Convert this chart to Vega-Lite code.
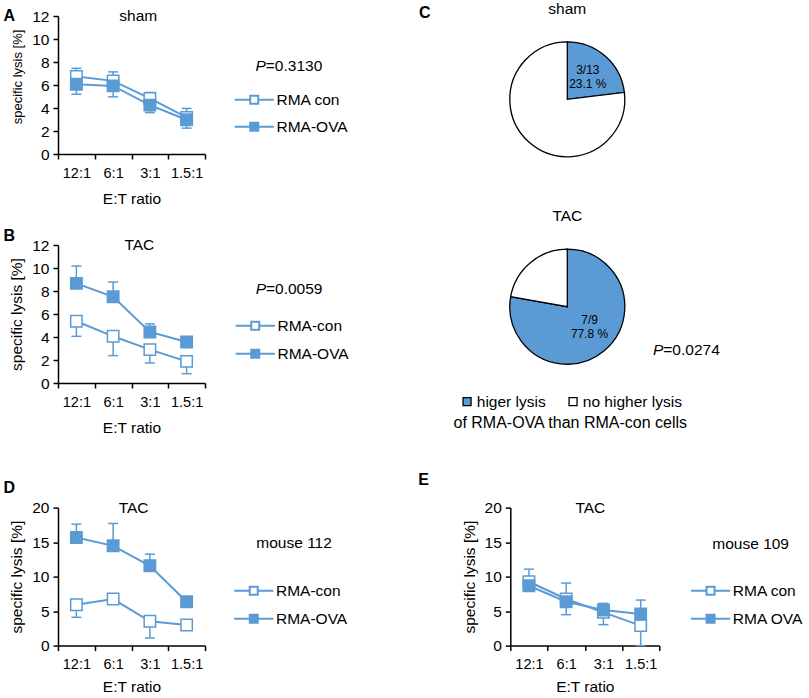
{
"$schema":"https://vega.github.io/schema/vega-lite/v6.json",
"padding":{"left":3,"top":2,"right":5,"bottom":5},
"background":"#ffffff",
"config":{"font":"Liberation Sans","view":{"stroke":null},
 "axis":{"grid":false,"domainColor":"#000","domainWidth":1.5,"tickColor":"#000","tickWidth":1.5,"tickSize":5,"labelColor":"#000","titleColor":"#000","titleFontWeight":"normal","labelFont":"Liberation Sans","titleFont":"Liberation Sans"},
 "axisX":{"labelAngle":0,"labelFontSize":14.5,"titleFontSize":15.5,"labelPadding":7,"titlePadding":8},
 "axisY":{"labelFontSize":15.5,"titleFontSize":15.5,"labelPadding":4,"titlePadding":7},
 "legend":{"labelFont":"Liberation Sans","titleFont":"Liberation Sans","labelColor":"#000","titleColor":"#000","padding":0,"titleLimit":500,"labelLimit":300},
 "text":{"font":"Liberation Sans","color":"#000"}},
"bounds":"flush","spacing":491.6,
"resolve":{"scale":{"x":"independent","y":"independent","fill":"independent","theta":"independent"},"legend":{"fill":"independent"}},
"vconcat":[
{"hconcat":[
 {"vconcat":[
  {"width":147,"height":138,
   "layer":[
    {"data":{"values":[
      {"ratio":"12:1","series":"RMA con","v":6.74,"e":7.45},
      {"ratio":"6:1","series":"RMA con","v":6.36,"e":7.14},
      {"ratio":"3:1","series":"RMA con","v":4.83,"e":5.35},
      {"ratio":"1.5:1","series":"RMA con","v":3.18,"e":3.96},
      {"ratio":"12:1","series":"RMA-OVA","v":6.07,"e":5.2},
      {"ratio":"6:1","series":"RMA-OVA","v":5.92,"e":4.97},
      {"ratio":"3:1","series":"RMA-OVA","v":4.25,"e":3.6},
      {"ratio":"1.5:1","series":"RMA-OVA","v":2.98,"e":2.25}]},
     "encoding":{"x":{"field":"ratio","type":"ordinal","sort":["12:1","6:1","3:1","1.5:1"],"scale":{"type":"band","paddingInner":0,"paddingOuter":0},"axis":{"title":"E:T ratio","tickBand":"extent","titlePadding":12}},
       "y":{"field":"v","type":"quantitative","title":"specific lysis [%]","scale":{"domain":[0,12],"nice":false},"axis":{"values":[0,2,4,6,8,10,12],"titleFontSize":13,"titleY":60.5}}},
     "layer":[
      {"transform":[{"filter":"datum.e != null"}],"mark":{"type":"rule","color":"#5B9BD5","strokeWidth":1.5},"encoding":{"y2":{"field":"e"}}},
      {"transform":[{"filter":"datum.e != null"}],"mark":{"type":"tick","color":"#5B9BD5","thickness":1.5,"size":10,"opacity":1},"encoding":{"y":{"field":"e","type":"quantitative","title":"specific lysis [%]"}}},
      {"mark":{"type":"line","color":"#5B9BD5","strokeWidth":2},"encoding":{"detail":{"field":"series"}}},
      {"mark":{"type":"point","shape":"square","size":130,"filled":true,"opacity":1,"stroke":"#5B9BD5","strokeWidth":1.5},
       "encoding":{"fill":{"field":"series","type":"nominal","scale":{"domain":["RMA con","RMA-OVA"],"range":["#ffffff","#5B9BD5"]},
         "legend":{"orient":"none","legendX":188.5,"legendY":76,"title":null,"direction":"vertical","symbolType":"M-4.9,0H-1M1,0H4.9M-1,-1H1V1H-1Z","symbolSize":64,"symbolStrokeColor":"#5B9BD5","symbolStrokeWidth":2,"symbolOpacity":1,"labelFontSize":15.5,"labelOffset":14.5,"rowPadding":9}}}}
     ]},
    {"data":{"values":[{"t":"A"}]},"mark":{"type":"text","fontSize":16,"fontWeight":"bold","dx":-122.2,"dy":-69,"baseline":"middle"},"encoding":{"text":{"field":"t"}}},
    {"data":{"values":[{"t":"sham"}]},"mark":{"type":"text","fontSize":15.5,"dx":6.8,"dy":-69,"baseline":"middle"},"encoding":{"text":{"field":"t"}}},
    {"data":{"values":[{"t":"P"}]},"mark":{"type":"text","fontSize":15.5,"fontStyle":"italic","align":"right","dx":134.3,"dy":-18.7,"baseline":"middle"},"encoding":{"text":{"field":"t"}}},
    {"data":{"values":[{"t":"=0.3130"}]},"mark":{"type":"text","fontSize":15.5,"align":"left","dx":134.3,"dy":-18.7,"baseline":"middle"},"encoding":{"text":{"field":"t"}}}
   ]},
  {"width":147,"height":138,
   "layer":[
    {"data":{"values":[
      {"ratio":"12:1","series":"RMA-con","v":5.37,"e":4.06},
      {"ratio":"6:1","series":"RMA-con","v":4.06,"e":2.38},
      {"ratio":"3:1","series":"RMA-con","v":2.9,"e":1.74},
      {"ratio":"1.5:1","series":"RMA-con","v":1.88,"e":0.81},
      {"ratio":"12:1","series":"RMA-OVA","v":8.66,"e":10.17},
      {"ratio":"6:1","series":"RMA-OVA","v":7.5,"e":8.78},
      {"ratio":"3:1","series":"RMA-OVA","v":4.44,"e":5.14},
      {"ratio":"1.5:1","series":"RMA-OVA","v":3.57,"e":null}]},
     "encoding":{"x":{"field":"ratio","type":"ordinal","sort":["12:1","6:1","3:1","1.5:1"],"scale":{"type":"band","paddingInner":0,"paddingOuter":0},"axis":{"title":"E:T ratio","tickBand":"extent","titlePadding":12}},
       "y":{"field":"v","type":"quantitative","title":"specific lysis [%]","scale":{"domain":[0,12],"nice":false},"axis":{"values":[0,2,4,6,8,10,12]}}},
     "layer":[
      {"transform":[{"filter":"datum.e != null"}],"mark":{"type":"rule","color":"#5B9BD5","strokeWidth":1.5},"encoding":{"y2":{"field":"e"}}},
      {"transform":[{"filter":"datum.e != null"}],"mark":{"type":"tick","color":"#5B9BD5","thickness":1.5,"size":10,"opacity":1},"encoding":{"y":{"field":"e","type":"quantitative","title":"specific lysis [%]"}}},
      {"mark":{"type":"line","color":"#5B9BD5","strokeWidth":2},"encoding":{"detail":{"field":"series"}}},
      {"mark":{"type":"point","shape":"square","size":130,"filled":true,"opacity":1,"stroke":"#5B9BD5","strokeWidth":1.5},
       "encoding":{"fill":{"field":"series","type":"nominal","scale":{"domain":["RMA-con","RMA-OVA"],"range":["#ffffff","#5B9BD5"]},
         "legend":{"orient":"none","legendX":189.5,"legendY":73,"title":null,"direction":"vertical","symbolType":"M-4.9,0H-1M1,0H4.9M-1,-1H1V1H-1Z","symbolSize":64,"symbolStrokeColor":"#5B9BD5","symbolStrokeWidth":2,"symbolOpacity":1,"labelFontSize":15.5,"labelOffset":14.5,"rowPadding":10}}}}
     ]},
    {"data":{"values":[{"t":"B"}]},"mark":{"type":"text","fontSize":16,"fontWeight":"bold","dx":-122.2,"dy":-77.7,"baseline":"middle"},"encoding":{"text":{"field":"t"}}},
    {"data":{"values":[{"t":"TAC"}]},"mark":{"type":"text","fontSize":15.5,"dx":7.8,"dy":-68.7,"baseline":"middle"},"encoding":{"text":{"field":"t"}}},
    {"data":{"values":[{"t":"P"}]},"mark":{"type":"text","fontSize":15.5,"fontStyle":"italic","align":"right","dx":134.5,"dy":-24.7,"baseline":"middle"},"encoding":{"text":{"field":"t"}}},
    {"data":{"values":[{"t":"=0.0059"}]},"mark":{"type":"text","fontSize":15.5,"align":"left","dx":134.5,"dy":-24.7,"baseline":"middle"},"encoding":{"text":{"field":"t"}}}
   ]}
 ],"spacing":91,"bounds":"flush","resolve":{"scale":{"x":"independent","y":"independent","fill":"independent"},"legend":{"fill":"independent"}}},
 {"vconcat":[
  {"width":115,"height":166.6,
   "layer":[
    {"data":{"values":[{"cat":"higer lysis","n":3,"label":"3/13\n23.1 %"},{"cat":"no higher lysis","n":10,"label":""}]},
     "encoding":{"theta":{"field":"n","type":"quantitative","stack":true},"order":{"field":"cat","type":"nominal","sort":"ascending"}},
     "layer":[
      {"mark":{"type":"arc","outerRadius":57.5,"stroke":"#000","strokeWidth":1.3},
       "encoding":{"fill":{"field":"cat","type":"nominal","scale":{"domain":["higer lysis","no higher lysis"],"range":["#5B9BD5","#ffffff"]},"legend":null}}},
      {"mark":{"type":"text","radius":31,"fontSize":12,"lineBreak":"\n","lineHeight":14,"baseline":"middle","dy":-6},"encoding":{"text":{"field":"label"},"detail":{"field":"cat"}}}
     ]},
    {"data":{"values":[{"t":"sham"}]},"mark":{"type":"text","fontSize":15.5,"dy":-90,"baseline":"middle"},"encoding":{"text":{"field":"t"}}},
    {"data":{"values":[{"t":"C"}]},"mark":{"type":"text","fontSize":16,"fontWeight":"bold","dx":-142.5,"dy":-86,"baseline":"middle"},"encoding":{"text":{"field":"t"}}}
   ]},
  {"width":115,"height":152.6,
   "layer":[
    {"data":{"values":[{"cat":"higer lysis","n":7,"label":"7/9\n77.8 %"},{"cat":"no higher lysis","n":2,"label":""}]},
     "encoding":{"theta":{"field":"n","type":"quantitative","stack":true},"order":{"field":"cat","type":"nominal","sort":"ascending"}},
     "layer":[
      {"mark":{"type":"arc","outerRadius":57.5,"stroke":"#000","strokeWidth":1.3},
       "encoding":{"fill":{"field":"cat","type":"nominal","scale":{"domain":["higer lysis","no higher lysis"],"range":["#5B9BD5","#ffffff"]},
         "legend":{"orient":"none","legendX":-56.5,"legendY":163,"direction":"horizontal","title":"of RMA-OVA than RMA-con cells","titleOrient":"bottom","titleAnchor":"middle","titleFontSize":16,"titleFontWeight":"normal","titlePadding":5,"labelFontSize":15.5,"symbolType":"square","symbolSize":64,"symbolStrokeColor":"#000","symbolStrokeWidth":1.3,"labelOffset":2,"columnPadding":19}}}},
      {"mark":{"type":"text","radius":30,"fontSize":12,"lineBreak":"\n","lineHeight":14,"baseline":"middle","dx":3,"dy":-10},"encoding":{"text":{"field":"label"},"detail":{"field":"cat"}}}
     ]},
    {"data":{"values":[{"t":"TAC"}]},"mark":{"type":"text","fontSize":15.5,"dy":-91,"baseline":"middle"},"encoding":{"text":{"field":"t"}}},
    {"data":{"values":[{"t":"P"}]},"mark":{"type":"text","fontSize":15.5,"fontStyle":"italic","align":"right","dx":96,"dy":43,"baseline":"middle"},"encoding":{"text":{"field":"t"}}},
    {"data":{"values":[{"t":"=0.0274"}]},"mark":{"type":"text","fontSize":15.5,"align":"left","dx":96,"dy":43,"baseline":"middle"},"encoding":{"text":{"field":"t"}}}
   ]}
 ],"spacing":47.4,"bounds":"flush","resolve":{"scale":{"fill":"independent","theta":"independent"},"legend":{"fill":"independent"}}}
],"spacing":451.8,"bounds":"flush","resolve":{"scale":{"x":"independent","y":"independent","fill":"independent","theta":"independent"},"legend":{"fill":"independent"}}},
{"hconcat":[
  {"width":147,"height":138,
   "layer":[
    {"data":{"values":[
      {"ratio":"12:1","series":"RMA-con","v":5.93,"e":4.1},
      {"ratio":"6:1","series":"RMA-con","v":6.75,"e":null},
      {"ratio":"3:1","series":"RMA-con","v":3.52,"e":1.1},
      {"ratio":"1.5:1","series":"RMA-con","v":2.99,"e":null},
      {"ratio":"12:1","series":"RMA-OVA","v":15.66,"e":17.6},
      {"ratio":"6:1","series":"RMA-OVA","v":14.46,"e":17.7},
      {"ratio":"3:1","series":"RMA-OVA","v":11.57,"e":13.25},
      {"ratio":"1.5:1","series":"RMA-OVA","v":6.36,"e":null}]},
     "encoding":{"x":{"field":"ratio","type":"ordinal","sort":["12:1","6:1","3:1","1.5:1"],"scale":{"type":"band","paddingInner":0,"paddingOuter":0},"axis":{"title":"E:T ratio","tickBand":"extent"}},
       "y":{"field":"v","type":"quantitative","title":"specific lysis [%]","scale":{"domain":[0,20],"nice":false},"axis":{"values":[0,5,10,15,20]}}},
     "layer":[
      {"transform":[{"filter":"datum.e != null"}],"mark":{"type":"rule","color":"#5B9BD5","strokeWidth":1.5},"encoding":{"y2":{"field":"e"}}},
      {"transform":[{"filter":"datum.e != null"}],"mark":{"type":"tick","color":"#5B9BD5","thickness":1.5,"size":10,"opacity":1},"encoding":{"y":{"field":"e","type":"quantitative","title":"specific lysis [%]"}}},
      {"mark":{"type":"line","color":"#5B9BD5","strokeWidth":2},"encoding":{"detail":{"field":"series"}}},
      {"mark":{"type":"point","shape":"square","size":130,"filled":true,"opacity":1,"stroke":"#5B9BD5","strokeWidth":1.5},
       "encoding":{"fill":{"field":"series","type":"nominal","scale":{"domain":["RMA-con","RMA-OVA"],"range":["#ffffff","#5B9BD5"]},
         "legend":{"orient":"none","legendX":188,"legendY":75.5,"title":null,"direction":"vertical","symbolType":"M-4.9,0H-1M1,0H4.9M-1,-1H1V1H-1Z","symbolSize":64,"symbolStrokeColor":"#5B9BD5","symbolStrokeWidth":2,"symbolOpacity":1,"labelFontSize":15.5,"labelOffset":14.5,"rowPadding":10}}}}
     ]},
    {"data":{"values":[{"t":"D"}]},"mark":{"type":"text","fontSize":16,"fontWeight":"bold","dx":-122.2,"dy":-88.3,"baseline":"middle"},"encoding":{"text":{"field":"t"}}},
    {"data":{"values":[{"t":"TAC"}]},"mark":{"type":"text","fontSize":15.5,"dx":2.1,"dy":-68.3,"baseline":"middle"},"encoding":{"text":{"field":"t"}}},
    {"data":{"values":[{"t":"mouse 112"}]},"mark":{"type":"text","fontSize":15.5,"align":"left","dx":124.8,"dy":-33.3,"baseline":"middle"},"encoding":{"text":{"field":"t"}}}
   ]},
  {"width":149,"height":138,
   "layer":[
    {"data":{"values":[
      {"ratio":"12:1","series":"RMA con","v":9.25,"e":11.08},
      {"ratio":"6:1","series":"RMA con","v":6.75,"e":9.06},
      {"ratio":"3:1","series":"RMA con","v":4.82,"e":3.04},
      {"ratio":"1.5:1","series":"RMA con","v":2.89,"e":0},
      {"ratio":"12:1","series":"RMA OVA","v":8.67,"e":null},
      {"ratio":"6:1","series":"RMA OVA","v":6.36,"e":4.48},
      {"ratio":"3:1","series":"RMA OVA","v":5.16,"e":6.12},
      {"ratio":"1.5:1","series":"RMA OVA","v":4.58,"e":6.6}]},
     "encoding":{"x":{"field":"ratio","type":"ordinal","sort":["12:1","6:1","3:1","1.5:1"],"scale":{"type":"band","paddingInner":0,"paddingOuter":0},"axis":{"title":"E:T ratio","tickBand":"extent"}},
       "y":{"field":"v","type":"quantitative","title":"specific lysis [%]","scale":{"domain":[0,20],"nice":false},"axis":{"values":[0,5,10,15,20]}}},
     "layer":[
      {"transform":[{"filter":"datum.e != null"}],"mark":{"type":"rule","color":"#5B9BD5","strokeWidth":1.5},"encoding":{"y2":{"field":"e"}}},
      {"transform":[{"filter":"datum.e != null"}],"mark":{"type":"tick","color":"#5B9BD5","thickness":1.5,"size":10,"opacity":1},"encoding":{"y":{"field":"e","type":"quantitative","title":"specific lysis [%]"}}},
      {"mark":{"type":"line","color":"#5B9BD5","strokeWidth":2},"encoding":{"detail":{"field":"series"}}},
      {"mark":{"type":"point","shape":"square","size":130,"filled":true,"opacity":1,"stroke":"#5B9BD5","strokeWidth":1.5},
       "encoding":{"fill":{"field":"series","type":"nominal","scale":{"domain":["RMA con","RMA OVA"],"range":["#ffffff","#5B9BD5"]},
         "legend":{"orient":"none","legendX":192.5,"legendY":75.5,"title":null,"direction":"vertical","symbolType":"M-4.9,0H-1M1,0H4.9M-1,-1H1V1H-1Z","symbolSize":64,"symbolStrokeColor":"#5B9BD5","symbolStrokeWidth":2,"symbolOpacity":1,"labelFontSize":15.5,"labelOffset":14.5,"rowPadding":10}}}}
     ]},
    {"data":{"values":[{"t":"E"}]},"mark":{"type":"text","fontSize":16,"fontWeight":"bold","dx":-161.2,"dy":-96.3,"baseline":"middle"},"encoding":{"text":{"field":"t"}}},
    {"data":{"values":[{"t":"TAC"}]},"mark":{"type":"text","fontSize":15.5,"dx":5.5,"dy":-68.3,"baseline":"middle"},"encoding":{"text":{"field":"t"}}},
    {"data":{"values":[{"t":"mouse 109"}]},"mark":{"type":"text","fontSize":15.5,"align":"left","dx":127.5,"dy":-32.3,"baseline":"middle"},"encoding":{"text":{"field":"t"}}}
   ]}
],"spacing":305.3,"bounds":"flush","resolve":{"scale":{"x":"independent","y":"independent","fill":"independent"},"legend":{"fill":"independent"}}}
]
}
